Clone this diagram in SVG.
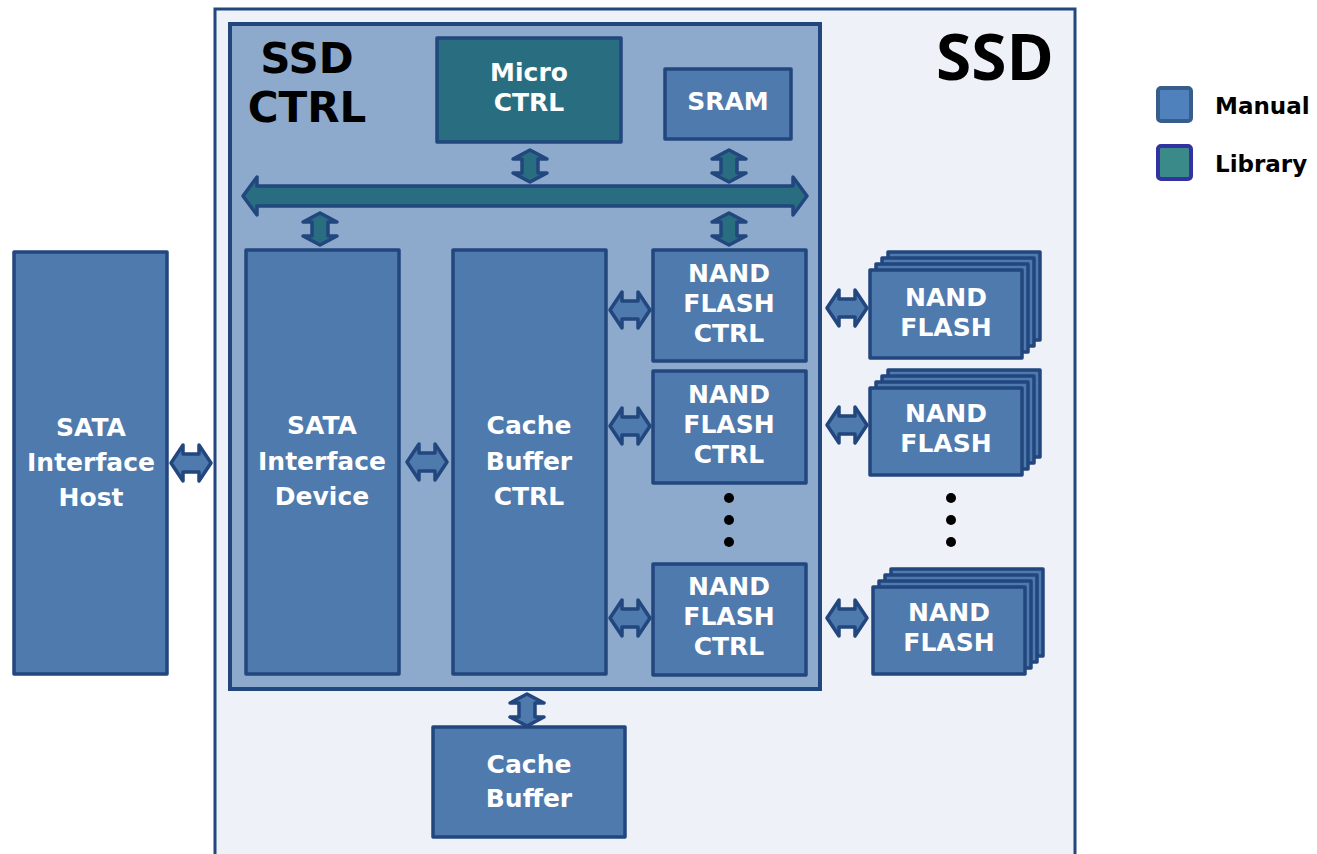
<svg xmlns="http://www.w3.org/2000/svg" xmlns:xlink="http://www.w3.org/1999/xlink" width="1317" height="854" viewBox="0 0 1317 854">
<style>
.box{fill:#4f7aae;stroke:#22467e;stroke-width:3.5;stroke-linejoin:round}
.lib{fill:#296e80;stroke:#22467e;stroke-width:3.5;stroke-linejoin:round}
.t{font-family:"DejaVu Sans",Verdana,sans-serif;font-weight:bold;font-size:25px;fill:#ffffff;text-anchor:middle}
.big{font-family:"DejaVu Sans",Verdana,sans-serif;font-weight:bold;fill:#000000;text-anchor:middle}
.ssd{font-family:"Open Sans","Noto Sans",sans-serif;font-weight:bold;fill:#000000;text-anchor:middle}
.leg{font-family:"DejaVu Sans",Verdana,sans-serif;font-weight:bold;font-size:23px;fill:#000000}
.ah{fill:#4f7aae;stroke:#22467e;stroke-width:3.5;stroke-linejoin:round}
.av{fill:#296e80;stroke:#22467e;stroke-width:3.5;stroke-linejoin:round}
.dot{fill:#000000}
</style>
<defs>
<path id="harr" d="M-20,0 L-8,-18 L-8,-9 L8,-9 L8,-18 L20,0 L8,18 L8,9 L-8,9 L-8,18 Z"/>
<path id="varr" d="M0,-16 L17,-7 L8,-7 L8,7 L17,7 L0,16 L-17,7 L-8,7 L-8,-7 L-17,-7 Z"/>
</defs>

<g id="ssd">
<rect x="215" y="9" width="860" height="860" fill="#eef1f7" stroke="#22467e" stroke-width="3"/>
<text class="ssd" x="995" y="80" font-size="64">SSD</text>
</g>

<g id="ssd-ctrl">
<rect x="230" y="24" width="590" height="665" fill="#8daacd" stroke="#22467e" stroke-width="4"/>
<text class="big" x="307" y="73" font-size="42">SSD</text>
<text class="big" x="307" y="122" font-size="42">CTRL</text>
</g>

<g id="micro-ctrl">
<rect class="lib" x="437" y="38" width="184" height="104"/>
<text class="t" x="529" y="81">Micro</text>
<text class="t" x="529" y="111">CTRL</text>
</g>

<g id="sram">
<rect class="box" x="665" y="69" width="126" height="70"/>
<text class="t" x="728" y="110">SRAM</text>
</g>

<g id="sata-host">
<rect class="box" x="14" y="252" width="153" height="422"/>
<text class="t" x="91" y="436">SATA</text>
<text class="t" x="91" y="471">Interface</text>
<text class="t" x="91" y="506">Host</text>
</g>

<g id="sata-device">
<rect class="box" x="246" y="250" width="153" height="424"/>
<text class="t" x="322" y="434">SATA</text>
<text class="t" x="322" y="470">Interface</text>
<text class="t" x="322" y="505">Device</text>
</g>

<g id="cache-buffer-ctrl">
<rect class="box" x="453" y="250" width="153" height="424"/>
<text class="t" x="529" y="434">Cache</text>
<text class="t" x="529" y="470">Buffer</text>
<text class="t" x="529" y="505">CTRL</text>
</g>

<g id="nand-ctrl-1">
<rect class="box" x="653" y="250" width="153" height="111"/>
<text class="t" x="729" y="282">NAND</text>
<text class="t" x="729" y="312">FLASH</text>
<text class="t" x="729" y="342">CTRL</text>
</g>

<g id="nand-ctrl-2">
<rect class="box" x="653" y="371" width="153" height="112"/>
<text class="t" x="729" y="403">NAND</text>
<text class="t" x="729" y="433">FLASH</text>
<text class="t" x="729" y="463">CTRL</text>
</g>

<g id="nand-ctrl-3">
<rect class="box" x="653" y="564" width="153" height="111"/>
<text class="t" x="729" y="595">NAND</text>
<text class="t" x="729" y="625">FLASH</text>
<text class="t" x="729" y="655">CTRL</text>
</g>

<g id="ctrl-dots">
<circle class="dot" cx="729" cy="498" r="5"/>
<circle class="dot" cx="729" cy="520" r="5"/>
<circle class="dot" cx="729" cy="542" r="5"/>
</g>

<g id="nand-flash-1">
<rect class="box" x="888" y="252" width="152" height="88"/>
<rect class="box" x="882" y="258" width="152" height="88"/>
<rect class="box" x="876" y="264" width="152" height="88"/>
<rect class="box" x="870" y="270" width="152" height="88"/>
<text class="t" x="946" y="306">NAND</text>
<text class="t" x="946" y="336">FLASH</text>
</g>

<g id="nand-flash-2">
<rect class="box" x="888" y="370" width="152" height="87"/>
<rect class="box" x="882" y="376" width="152" height="87"/>
<rect class="box" x="876" y="382" width="152" height="87"/>
<rect class="box" x="870" y="388" width="152" height="87"/>
<text class="t" x="946" y="422">NAND</text>
<text class="t" x="946" y="452">FLASH</text>
</g>

<g id="nand-flash-3">
<rect class="box" x="891" y="569" width="152" height="87"/>
<rect class="box" x="885" y="575" width="152" height="87"/>
<rect class="box" x="879" y="581" width="152" height="87"/>
<rect class="box" x="873" y="587" width="152" height="87"/>
<text class="t" x="949" y="621">NAND</text>
<text class="t" x="949" y="651">FLASH</text>
</g>

<g id="flash-dots">
<circle class="dot" cx="951" cy="498" r="5"/>
<circle class="dot" cx="951" cy="520" r="5"/>
<circle class="dot" cx="951" cy="542" r="5"/>
</g>

<g id="cache-buffer">
<rect class="box" x="433" y="727" width="192" height="110"/>
<text class="t" x="529" y="773">Cache</text>
<text class="t" x="529" y="807">Buffer</text>
</g>

<g id="legend">
<rect x="1158" y="88" width="33" height="33" rx="3" fill="#4f81bd" stroke="#385d8a" stroke-width="4"/>
<text class="leg" x="1215" y="114">Manual</text>
<rect x="1158" y="146" width="33" height="33" rx="3" fill="#3a8a8a" stroke="#3232a0" stroke-width="4"/>
<text class="leg" x="1215" y="172">Library</text>
</g>

<g id="connectors">
<path class="av" d="M243,196 L257,177 L257,186 L793,186 L793,177 L807,196 L793,215 L793,206 L257,206 L257,215 Z"/>
<use xlink:href="#varr" class="av" x="530" y="166"/>
<use xlink:href="#varr" class="av" x="729" y="166"/>
<use xlink:href="#varr" class="av" x="320" y="229"/>
<use xlink:href="#varr" class="av" x="729" y="229"/>
<use xlink:href="#harr" class="ah" x="191" y="463"/>
<use xlink:href="#harr" class="ah" x="427" y="462"/>
<use xlink:href="#harr" class="ah" x="630" y="310"/>
<use xlink:href="#harr" class="ah" x="630" y="426"/>
<use xlink:href="#harr" class="ah" x="630" y="618"/>
<use xlink:href="#harr" class="ah" x="847" y="308"/>
<use xlink:href="#harr" class="ah" x="847" y="425"/>
<use xlink:href="#harr" class="ah" x="847" y="618"/>
<use xlink:href="#varr" class="ah" x="527" y="710"/>
</g>
</svg>
